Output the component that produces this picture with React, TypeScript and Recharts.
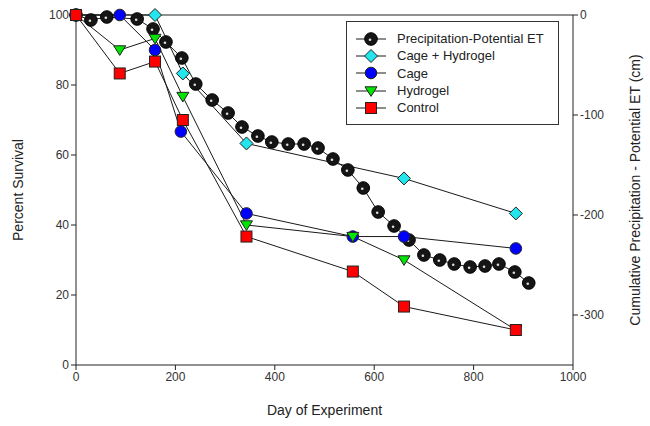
import React from 'react';
import { LineChart, Line, XAxis, YAxis, ReferenceLine } from 'recharts';

const precipDays = [0, 30, 62, 123, 155, 181, 213, 241, 274, 306, 334, 366, 394, 427, 459, 487, 517, 547, 578, 608, 640, 670, 700, 732, 761, 793, 823, 851, 883, 911];
const precipValues = [0, -5, -2, -4, -14, -27, -43, -69, -85, -98, -112, -121, -127, -129, -129, -133, -144, -155, -173, -197, -211, -225, -240, -245, -249, -252, -251, -249, -257, -268];

const cageHydrogelDays = [0, 159, 215, 343, 660, 885];
const cageHydrogelValues = [100, 100, 83.3, 63.3, 53.3, 43.3];

const cageDays = [0, 88, 159, 211, 343, 557, 660, 885];
const cageValues = [100, 100, 90, 66.7, 43.3, 36.7, 36.7, 33.3];

const hydrogelDays = [0, 88, 159, 215, 343, 557, 660, 885];
const hydrogelValues = [100, 90, 93.3, 76.7, 40, 36.7, 30, 10];

const controlDays = [0, 88, 159, 215, 343, 557, 660, 885];
const controlValues = [100, 83.3, 86.7, 70, 36.7, 26.7, 16.7, 10];

const xTicks = [0, 200, 400, 600, 800, 1000];
const leftTicks = [0, 20, 40, 60, 80, 100];
const rightTicks = [0, -100, -200, -300];

const seriesNames = ['Precipitation-Potential ET', 'Cage + Hydrogel', 'Cage', 'Hydrogel', 'Control'];

const zip = (days: number[], vals: number[]) => days.map((d, i) => ({ day: d, v: vals[i] }));

const precipData = zip(precipDays, precipValues);
const cageHydrogelData = zip(cageHydrogelDays, cageHydrogelValues);
const cageData = zip(cageDays, cageValues);
const hydrogelData = zip(hydrogelDays, hydrogelValues);
const controlData = zip(controlDays, controlValues);

const FONT = '"Liberation Sans", Arial, sans-serif';
const LINE = '#1a1a1a';

const Marker = ({ kind, cx, cy }: { kind: string; cx: number; cy: number }) => {
  if (kind === 'black') {
    return (
      <g>
        <circle cx={cx} cy={cy} r={6.3} fill="#151515" stroke="#000" strokeWidth={1} />
        <circle cx={cx - 1} cy={cy + 0.8} r={1.3} fill="#ddd" />
      </g>
    );
  }
  if (kind === 'cyan') {
    const s = 6.5;
    return (
      <polygon
        points={`${cx},${cy - s} ${cx + s},${cy} ${cx},${cy + s} ${cx - s},${cy}`}
        fill="#22E5EE"
        stroke="#222"
        strokeWidth={1}
      />
    );
  }
  if (kind === 'blue') {
    return <circle cx={cx} cy={cy} r={5.8} fill="#0000FF" stroke="#222" strokeWidth={1} />;
  }
  if (kind === 'green') {
    const s = 6;
    return (
      <polygon
        points={`${cx - s},${cy - s * 0.7} ${cx + s},${cy - s * 0.7} ${cx},${cy + s * 0.9}`}
        fill="#00E600"
        stroke="#222"
        strokeWidth={1}
      />
    );
  }
  return <rect x={cx - 5.5} y={cy - 5.5} width={11} height={11} fill="#FF0000" stroke="#222" strokeWidth={1} />;
};

const makeDot = (kind: string) => (props: any) => {
  const { cx, cy, index } = props;
  if (cx == null || cy == null) return <g key={index} />;
  return <Marker key={`${kind}-${index}`} kind={kind} cx={cx} cy={cy} />;
};

const kinds = ['black', 'cyan', 'blue', 'green', 'red'];

const LegendBox = () => (
  <div
    style={{
      position: 'absolute',
      left: 346,
      top: 21,
      width: 213,
      height: 104,
      border: '1.5px solid #333',
      background: '#fff',
      boxSizing: 'border-box',
      paddingTop: 8,
      fontFamily: FONT,
      fontSize: 13,
      color: '#222',
    }}
  >
    {seriesNames.map((name, i) => (
      <div key={name} style={{ display: 'flex', alignItems: 'center', height: 17.3 }}>
        <svg width={48} height={16} style={{ marginLeft: 9 }}>
          <line x1={0} y1={8} x2={30} y2={8} stroke={LINE} strokeWidth={1} />
          <Marker kind={kinds[i]} cx={15} cy={8} />
        </svg>
        <span style={{ marginLeft: -7, whiteSpace: 'nowrap' }}>{name}</span>
      </div>
    ))}
  </div>
);

export default function App() {
  return (
    <div style={{ position: 'absolute', left: 0, top: 0, width: 650, height: 426, background: '#fff' }}>
      <LineChart
        width={650}
        height={426}
        margin={{ top: 15, right: 17, bottom: 11, left: 16 }}
        style={{ fontFamily: FONT }}
      >
        <XAxis
          dataKey="day"
          type="number"
          domain={[0, 1000]}
          ticks={xTicks}
          allowDuplicatedCategory={false}
          stroke="#222"
          tick={{ fill: '#333', fontSize: 12 }}
          tickSize={5}
          height={50}
          label={{ value: 'Day of Experiment', position: 'insideBottom', offset: 0, fill: '#222', fontSize: 14 }}
        />
        <YAxis
          yAxisId="left"
          domain={[0, 100]}
          ticks={leftTicks}
          stroke="#222"
          tick={{ fill: '#333', fontSize: 12 }}
          tickSize={5}
          width={60}
          label={{ value: 'Percent Survival', angle: -90, position: 'insideLeft', offset: 2, fill: '#222', fontSize: 14, style: { textAnchor: 'middle' } }}
        />
        <YAxis
          yAxisId="right"
          orientation="right"
          domain={[-350, 0]}
          ticks={rightTicks}
          stroke="#222"
          tick={{ fill: '#333', fontSize: 12 }}
          tickSize={5}
          width={60}
          label={{
            value: 'Cumulative Precipitation - Potential ET (cm)',
            angle: -90,
            position: 'insideRight',
            offset: -2,
            fill: '#222',
            fontSize: 14,
            style: { textAnchor: 'middle' },
          }}
        />
        <ReferenceLine yAxisId="left" y={100} stroke="#222" strokeWidth={1} />
        <Line
          yAxisId="right"
          data={precipData}
          dataKey="v"
          name={seriesNames[0]}
          stroke={LINE}
          strokeWidth={1}
          dot={makeDot('black')}
          isAnimationActive={false}
        />
        <Line
          yAxisId="left"
          data={cageHydrogelData}
          dataKey="v"
          name={seriesNames[1]}
          stroke={LINE}
          strokeWidth={1}
          dot={makeDot('cyan')}
          isAnimationActive={false}
        />
        <Line
          yAxisId="left"
          data={cageData}
          dataKey="v"
          name={seriesNames[2]}
          stroke={LINE}
          strokeWidth={1}
          dot={makeDot('blue')}
          isAnimationActive={false}
        />
        <Line
          yAxisId="left"
          data={hydrogelData}
          dataKey="v"
          name={seriesNames[3]}
          stroke={LINE}
          strokeWidth={1}
          dot={makeDot('green')}
          isAnimationActive={false}
        />
        <Line
          yAxisId="left"
          data={controlData}
          dataKey="v"
          name={seriesNames[4]}
          stroke={LINE}
          strokeWidth={1}
          dot={makeDot('red')}
          isAnimationActive={false}
        />
      </LineChart>
      <LegendBox />
    </div>
  );
}
